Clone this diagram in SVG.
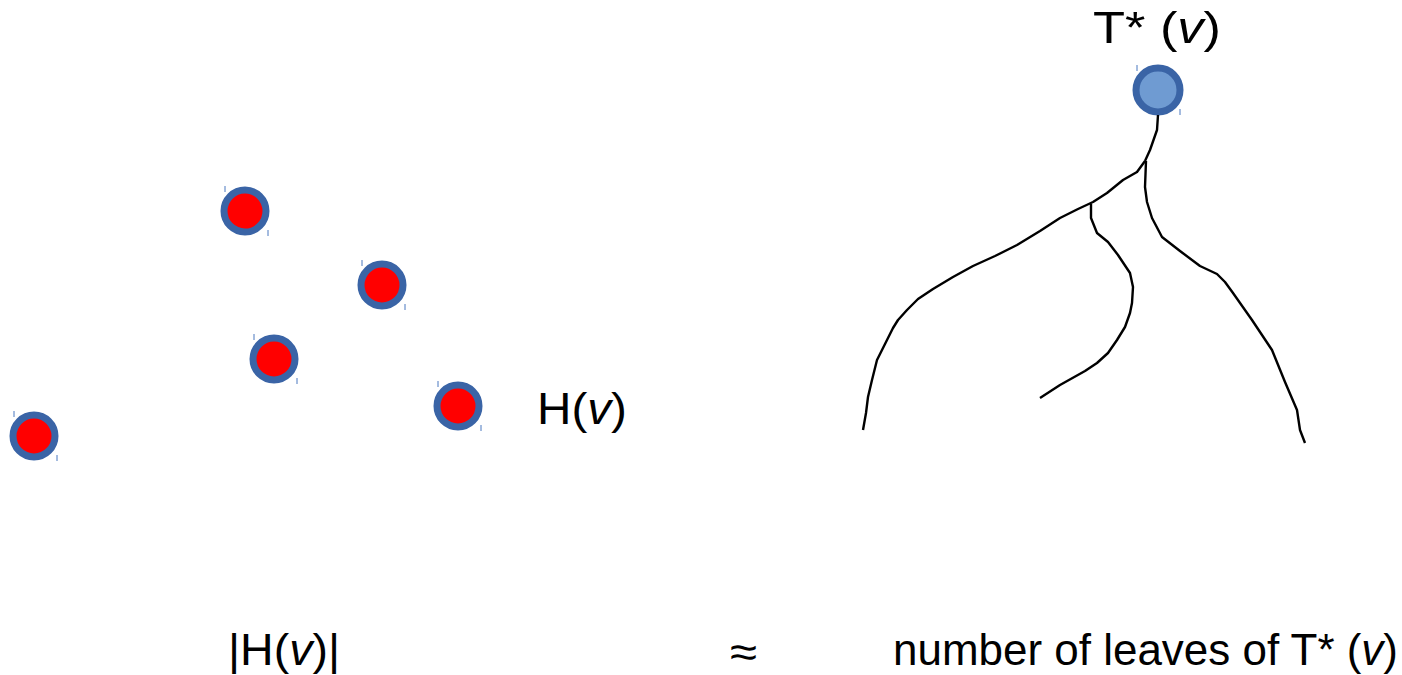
<svg xmlns="http://www.w3.org/2000/svg" width="1402" height="675" viewBox="0 0 1402 675">
<style>
.red{fill:#ff0000;stroke:#3a64a6;stroke-width:7}
.root{fill:#6f9bd2;stroke:#3a64a6;stroke-width:7}
.tick{stroke:#4a78c0;stroke-width:1}
.branch{fill:none;stroke:#000;stroke-width:2.4;stroke-linejoin:round;stroke-linecap:butt}
text{font-family:"Liberation Sans",Arial,sans-serif;font-size:44px;fill:#000}
</style>
<rect width="1402" height="675" fill="#fff"/>
<g id="h1"><circle class="red" cx="245" cy="211" r="21"/><line class="tick" x1="225" y1="186" x2="225" y2="192"/><line class="tick" x1="268" y1="230" x2="268" y2="236"/></g>
<g id="h2"><circle class="red" cx="382" cy="285" r="21"/><line class="tick" x1="362" y1="260" x2="362" y2="266"/><line class="tick" x1="405" y1="304" x2="405" y2="310"/></g>
<g id="h3"><circle class="red" cx="274" cy="359" r="21"/><line class="tick" x1="254" y1="334" x2="254" y2="340"/><line class="tick" x1="297" y1="378" x2="297" y2="384"/></g>
<g id="h4"><circle class="red" cx="458" cy="406" r="21"/><line class="tick" x1="438" y1="381" x2="438" y2="387"/><line class="tick" x1="481" y1="425" x2="481" y2="431"/></g>
<g id="h5"><circle class="red" cx="34" cy="436" r="21"/><line class="tick" x1="14" y1="411" x2="14" y2="417"/><line class="tick" x1="57" y1="455" x2="57" y2="461"/></g>
<g id="root"><circle class="root" cx="1158" cy="90" r="22"/><line class="tick" x1="1137" y1="65" x2="1137" y2="71"/><line class="tick" x1="1180" y1="109" x2="1180" y2="115"/></g>
<g id="connectors">
<path class="branch" d="M1158,115 L1157,130 L1150,150 L1145,161"/>
<path class="branch" d="M1145,161 L1137,172 L1123,180 L1107,193 L1093,202 L1078,209 L1060,218 L1040,231 L1017,245 L995,256 L973,266 L953,277 L933,289 L918,299 L907,310 L898,320 L893,328 L885,344 L877,360 L872,380 L868,397 L866,413 L863,430"/>
<path class="branch" d="M1091,204 L1091,218 L1097,233 L1108,242 L1118,255 L1130,273 L1133,287 L1132,303 L1130,313 L1125,327 L1117,340 L1108,353 L1097,363 L1085,371 L1060,385 L1040,398"/>
<path class="branch" d="M1146,161 L1145,187 L1147,202 L1152,218 L1162,237 L1180,251 L1200,266 L1217,274 L1225,282 L1233,293 L1252,320 L1272,350 L1285,382 L1297,410 L1300,430 L1305,443"/>
</g>
<g id="labels">
<text x="537" y="424" textLength="90" lengthAdjust="spacingAndGlyphs">H(<tspan font-style="italic">v</tspan>)</text>
<text x="1093" y="43" textLength="128" lengthAdjust="spacingAndGlyphs">T* (<tspan font-style="italic">v</tspan>)</text>
<text x="228" y="665" textLength="112" lengthAdjust="spacingAndGlyphs">|H(<tspan font-style="italic">v</tspan>)|</text>
<text x="730" y="667" font-size="54" textLength="27" lengthAdjust="spacingAndGlyphs">≈</text>
<text x="893" y="665" textLength="505" lengthAdjust="spacingAndGlyphs">number of leaves of T* (<tspan font-style="italic">v</tspan>)</text>
</g>
</svg>
